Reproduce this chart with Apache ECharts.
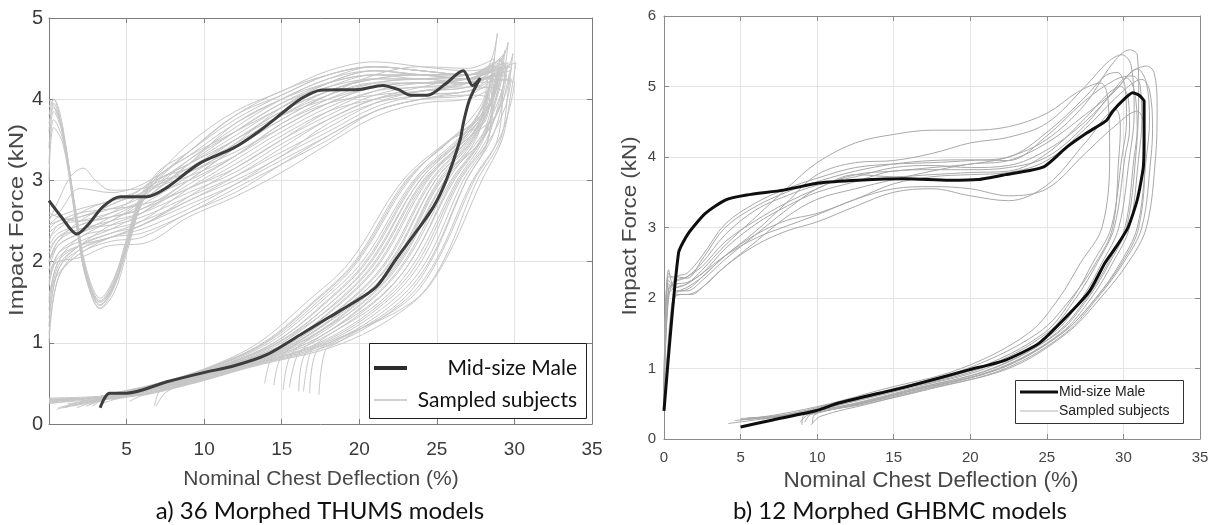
<!DOCTYPE html>
<html><head><meta charset="utf-8">
<script src="https://cdn.jsdelivr.net/npm/echarts@6/dist/echarts.min.js"></script>
<style>html,body{margin:0;padding:0;background:#fff;}#c{width:1212px;height:525px;}</style>
</head><body><div id="c"></div>
<script>
// ---------- tick labels ----------
const thumsXTicks = [0, 5, 10, 15, 20, 25, 30, 35];
const thumsYTicks = [0, 1, 2, 3, 4, 5];
const ghbmcXTicks = [0, 5, 10, 15, 20, 25, 30, 35];
const ghbmcYTicks = [0, 1, 2, 3, 4, 5, 6];

// ---------- a) THUMS : mid-size male ----------
const thumsMale = [[0,2.75],[0.8,2.55],[1.8,2.34],[2.5,2.45],[3.5,2.68],[4.6,2.8],[6.3,2.8],[7.5,2.9],[9.7,3.21],[11.9,3.4],[13.5,3.6],[15.3,3.87],[16.2,4.0],[17.5,4.11],[20,4.12],[21.5,4.17],[22.5,4.12],[23.3,4.05],[24.4,4.05],[25.5,4.18],[26.7,4.35],[27.3,4.17],[27.8,4.26],[27.1,3.99],[26.7,3.7],[26.5,3.5],[25.6,3.0],[24.8,2.68],[23.6,2.35],[22.4,2.04],[21.1,1.69],[19.5,1.48],[18.1,1.32],[16.2,1.1],[14.0,0.85],[12.0,0.72],[9.9,0.63],[7.6,0.52],[5.0,0.38],[3.9,0.38],[3.3,0.2]];

// ---------- a) THUMS : sampled subjects ----------
const thumsS01 = [[0,1.0],[0.6,1.8],[2,2.1],[4,2.25],[6,2.3],[9,2.6],[12,2.85],[15,3.2],[18,3.55],[21,3.85],[24,4.0],[27,4.05],[28.4,4.2],[28.0,3.85],[26.3,3.5],[23.5,3],[20.2,2],[17.5,1.5],[14.2,1],[10.6,0.7],[7.3,0.5],[3.9,0.35],[1.0,0.2]];
const thumsS02 = [[0,1.2],[0.6,1.9],[2,2.15],[4,2.3],[6,2.45],[9,2.75],[12,3.0],[15,3.3],[18,3.7],[21,3.95],[24,4.05],[27,4.1],[29.0,4.35],[28.6,4.0],[27.4,3.5],[25.5,3],[22.7,2],[20.3,1.5],[16.4,1],[15.5,0.82],[15.1,0.42]];
const thumsS03 = [[0,1.5],[0.6,2.0],[2,2.2],[4,2.35],[6,2.5],[9,2.9],[12,3.25],[15,3.6],[18,3.9],[21,4.1],[24,4.15],[27,4.2],[28.8,4.3],[28.4,3.95],[26.8,3.5],[24.4,3],[21.4,2],[18.9,1.5],[15.3,1],[11.2,0.7],[7.8,0.5],[4.3,0.35],[2.4,0.22]];
const thumsS04 = [[0,1.8],[0.6,2.1],[2,2.25],[4,2.4],[6,2.6],[9,3.0],[12,3.4],[15,3.8],[18,4.05],[21,4.2],[24,4.2],[27,4.25],[29.3,4.45],[28.9,4.1],[28.0,3.5],[26.3,3],[23.6,2],[21.3,1.5],[17.3,1],[16.8,0.86],[16.4,0.4]];
const thumsS05 = [[0,2.0],[0.6,2.2],[2,2.35],[4,2.5],[6,2.75],[9,3.2],[12,3.6],[15,3.95],[18,4.15],[21,4.25],[24,4.25],[27,4.3],[28.3,4.4],[28.9,4.81],[28.6,4.3],[28.3,3.5],[26.9,3],[24.6,2],[22.6,1.5],[18.6,1],[17.8,0.9],[17.4,0.36]];
const thumsS06 = [[0,2.2],[0.6,2.35],[2,2.45],[4,2.6],[6,2.85],[9,3.35],[12,3.8],[15,4.05],[18,4.3],[21,4.4],[24,4.35],[27,4.3],[29.2,4.5],[28.8,4.1],[27.8,3.5],[25.9,3],[23.0,2],[20.6,1.5],[16.7,1],[11.9,0.7],[8.5,0.5],[7.2,0.42],[6.8,0.22]];
const thumsS07 = [[0,2.4],[0.6,2.5],[2,2.55],[4,2.7],[6,2.9],[9,3.45],[12,3.85],[15,4.1],[18,4.35],[21,4.46],[24,4.4],[27,4.35],[29.0,4.45],[29.6,4.7],[29.3,4.2],[28.9,3.5],[27.4,3],[25.0,2],[23.0,1.5],[18.3,1],[17.2,0.88],[16.8,0.38]];
const thumsS08 = [[0,2.55],[0.6,2.6],[2,2.9],[4,2.85],[6,2.95],[9,3.3],[12,3.6],[15,3.9],[18,4.2],[21,4.35],[24,4.3],[27,4.25],[29.4,4.35],[29.9,4.56],[29.6,4.1],[29.1,3.5],[27.6,3],[25.4,2],[23.4,1.5],[18.0,1],[16.5,0.86],[16.1,0.4]];
const thumsS09 = [[0,2.5],[0.6,2.75],[1.4,3.05],[2.2,3.15],[3,3.0],[4,2.88],[6,2.9],[9,3.1],[12,3.35],[15,3.65],[18,3.95],[21,4.15],[24,4.2],[27,4.2],[29.5,4.4],[29.1,4.05],[27.7,3.5],[25.2,3],[22.4,2],[19.9,1.5],[16.1,1],[11.6,0.7],[8.2,0.5],[4.8,0.35],[0,0.3]];
const thumsS10 = [[0,1.9],[0.6,2.0],[2,2.05],[4,2.2],[6,2.22],[9,2.55],[12,2.8],[15,3.1],[18,3.45],[21,3.78],[24,3.95],[27,4.0],[28.2,4.1],[27.8,3.8],[25.8,3.5],[22.8,3],[19.4,2],[16.6,1.5],[13.5,1],[10.3,0.7],[7.0,0.5],[3.5,0.35],[0.5,0.18]];
const thumsS11 = [[0,1.6],[0.6,1.85],[2,2.1],[4,2.3],[6,2.4],[9,2.65],[12,2.95],[15,3.3],[18,3.6],[21,3.9],[24,4.05],[27,4.1],[28.7,4.25],[28.3,3.9],[26.6,3.5],[23.9,3],[20.8,2],[18.2,1.5],[14.8,1],[10.9,0.7],[7.5,0.5],[4.1,0.35],[1.8,0.2]];
const thumsS12 = [[0,2.1],[0.6,2.3],[2,2.45],[4,2.55],[6,2.65],[9,2.9],[12,3.15],[15,3.5],[18,3.85],[21,4.1],[24,4.2],[27,4.25],[29.1,4.4],[28.7,4.05],[27.2,3.5],[24.9,3],[22.0,2],[19.6,1.5],[15.9,1],[11.5,0.7],[8.0,0.5],[4.6,0.36],[0,0.28]];
const thumsS13 = [[0,2.3],[0.6,2.4],[2,2.6],[4,2.75],[6,2.8],[9,3.0],[12,3.3],[15,3.7],[18,4.0],[21,4.2],[24,4.25],[27,4.3],[29.4,4.45],[29.0,4.1],[27.9,3.5],[26.0,3],[23.3,2],[20.9,1.5],[16.9,1],[16.0,0.84],[15.5,0.45]];
const thumsS14 = [[0,1.4],[0.6,1.95],[2,2.2],[4,2.45],[6,2.6],[9,2.95],[12,3.3],[15,3.7],[18,3.95],[21,4.05],[24,4.1],[27,4.15],[28.5,4.3],[28.1,3.95],[26.5,3.5],[23.7,3],[20.5,2],[17.9,1.5],[14.5,1],[10.8,0.7],[7.4,0.5],[4.0,0.35],[2.8,0.22]];
const thumsS15 = [[0,2.0],[0.6,2.25],[2,2.4],[4,2.45],[6,2.55],[9,2.8],[12,3.05],[15,3.35],[18,3.65],[21,3.95],[24,4.1],[27,4.15],[28.9,4.35],[28.5,4.0],[27.0,3.5],[24.6,3],[21.7,2],[19.2,1.5],[15.6,1],[11.3,0.7],[7.9,0.5],[4.5,0.36],[0,0.32]];
const thumsS16 = [[0,2.45],[0.6,2.5],[2,2.6],[4,2.65],[6,2.7],[9,2.9],[12,3.2],[15,3.55],[18,3.85],[21,4.0],[24,4.1],[27,4.2],[29.7,4.35],[29.3,4.0],[28.5,3.5],[26.9,3],[24.5,2],[22.3,1.5],[18.1,1],[12.7,0.7],[9.1,0.5],[7.6,0.4],[6.9,0.22]];
const thumsS17 = [[0,1.7],[0.6,2.1],[2,2.3],[4,2.5],[6,2.7],[9,3.05],[12,3.45],[15,3.9],[18,4.2],[21,4.35],[24,4.3],[27,4.25],[29.0,4.4],[28.6,4.05],[27.0,3.5],[24.2,3],[21.1,2],[18.6,1.5],[15.1,1],[14.3,0.8],[13.9,0.5]];
const thumsS18 = [[0,2.25],[0.6,2.45],[2,2.5],[4,2.6],[6,2.75],[9,3.1],[12,3.5],[15,3.85],[18,4.1],[21,4.25],[24,4.3],[27,4.3],[30.1,4.45],[29.8,4.1],[29.2,3.5],[27.9,3],[25.5,2],[23.5,1.5],[19.0,1],[13.0,0.7],[9.3,0.5],[6.0,0.35],[5.2,0.28]];
const thumsS19 = [[0,1.1],[0.6,1.8],[2,2.15],[4,2.3],[6,2.35],[9,2.6],[12,2.9],[15,3.2],[18,3.5],[21,3.85],[24,4.0],[27,4.1],[28.3,4.15],[27.9,3.8],[25.9,3.5],[23.1,3],[19.8,2],[17.1,1.5],[13.9,1],[10.5,0.7],[7.2,0.5],[3.7,0.35],[0,0.25]];
const thumsS20 = [[0,2.6],[0.6,2.55],[2,2.5],[4,2.55],[6,2.65],[9,3.0],[12,3.4],[15,3.75],[18,4.05],[21,4.3],[24,4.4],[27,4.38],[28.7,4.5],[28.3,4.1],[27.3,3.5],[25.1,3],[22.3,2],[19.8,1.5],[16.0,1],[14.9,0.8],[14.5,0.48]];
const thumsS21 = [[0,1.9],[0.6,2.2],[2,2.35],[4,2.55],[6,2.75],[9,3.2],[12,3.7],[15,4.0],[18,4.2],[21,4.3],[24,4.3],[27,4.25],[29.5,4.3],[29.1,3.95],[27.9,3.5],[25.5,3],[22.6,2],[20.2,1.5],[16.4,1],[11.8,0.7],[8.4,0.5],[5.0,0.35],[1.5,0.22]];
const thumsS22 = [[0,2.15],[0.6,2.3],[2,2.4],[4,2.5],[6,2.6],[9,2.85],[12,3.1],[15,3.45],[18,3.75],[21,4.0],[24,4.15],[27,4.25],[30.0,4.2],[29.7,3.9],[29.0,3.5],[27.3,3],[24.9,2],[22.8,1.5],[18.5,1],[12.8,0.7],[9.2,0.5],[5.8,0.35],[0,0.3]];
const thumsS23 = [[0,1.3],[0.6,1.9],[2,2.2],[4,2.35],[6,2.45],[9,2.8],[12,3.15],[15,3.5],[18,3.8],[21,4.05],[24,4.15],[27,4.15],[29.2,4.1],[28.8,3.8],[26.9,3.5],[24.3,3],[21.3,2],[18.8,1.5],[15.3,1],[11.2,0.7],[7.8,0.5],[4.3,0.35],[0.9,0.2]];
const thumsS24 = [[0,2.35],[0.6,2.45],[2,2.55],[4,2.65],[6,2.8],[9,3.25],[12,3.65],[15,4.0],[18,4.25],[21,4.4],[24,4.35],[27,4.3],[28.8,4.4],[28.4,4.05],[27.5,3.5],[25.7,3],[22.9,2],[20.5,1.5],[16.7,1],[12.0,0.7],[8.5,0.5],[5.1,0.35],[3.5,0.26]];
const thumsS25 = [[0,1.75],[0.6,2.05],[2,2.2],[4,2.3],[6,2.45],[9,2.7],[12,2.95],[15,3.25],[18,3.55],[21,3.85],[24,4.0],[27,4.05],[28.4,4.0],[28.0,3.7],[25.9,3.5],[23.2,3],[19.9,2],[17.3,1.5],[14.0,1],[10.5,0.7],[7.2,0.5],[3.8,0.35],[0,0.27]];
const thumsS26 = [[0,2.0],[0.6,2.25],[2,2.5],[4,2.7],[6,2.85],[9,3.15],[12,3.5],[15,3.8],[18,4.0],[21,4.15],[24,4.2],[27,4.2],[29.8,4.25],[29.4,3.9],[28.4,3.5],[26.5,3],[24.0,2],[21.7,1.5],[17.6,1],[12.4,0.7],[8.8,0.5],[5.5,0.35],[0,0.3]];
const thumsS27 = [[0,1.55],[0.6,2.0],[2,2.3],[4,2.4],[6,2.5],[9,2.75],[12,3.05],[15,3.4],[18,3.75],[21,4.0],[24,4.1],[27,4.2],[29.3,4.55],[28.9,4.15],[27.3,3.5],[24.9,3],[22.1,2],[19.5,1.5],[15.8,1],[11.5,0.7],[8.1,0.5],[4.6,0.35],[2.0,0.25]];
const thumsS28 = [[0,2.45],[0.6,2.55],[2,2.65],[4,2.75],[6,2.9],[9,3.35],[12,3.75],[15,4.05],[18,4.3],[21,4.4],[24,4.35],[27,4.3],[28.6,4.45],[28.2,4.05],[26.7,3.5],[24.1,3],[21.0,2],[18.5,1.5],[15.0,1],[11.1,0.7],[7.7,0.5],[4.2,0.35],[0,0.29]];
const thumsS29 = [[0,3.6],[0.3,3.95],[0.9,3.6],[1.8,2.5],[2.4,1.85],[3.3,1.47],[4.2,1.72],[5.0,2.2],[6.0,2.78],[7.0,3.0],[9,3.2],[12,3.55],[15,3.9],[18,4.15],[21,4.3],[24,4.3],[27,4.25],[29.0,4.4],[28.6,4.05],[27.1,3.5],[24.7,3],[21.8,2],[19.3,1.5],[15.6,1],[11.4,0.7],[7.9,0.5],[4.5,0.35],[0,0.3]];
const thumsS30 = [[0,3.8],[0.3,4.0],[0.9,3.55],[1.8,2.4],[2.4,1.78],[3.3,1.43],[4.2,1.68],[5.0,2.15],[6.0,2.75],[7.0,3.05],[9,3.3],[12,3.7],[15,4.0],[18,4.25],[21,4.35],[24,4.3],[27,4.3],[28.8,4.4],[29.4,4.6],[29.0,4.15],[27.9,3.5],[26.1,3],[23.3,2],[21.0,1.5],[17.0,1],[12.2,0.7],[8.7,0.5],[5.3,0.35],[1.2,0.25]];
const thumsS31 = [[0,3.4],[0.3,3.85],[0.9,3.55],[1.8,2.55],[2.4,1.92],[3.3,1.55],[4.2,1.8],[5.0,2.25],[6.0,2.82],[7.0,2.98],[9,3.1],[12,3.4],[15,3.75],[18,4.05],[21,4.2],[24,4.25],[27,4.2],[28.6,4.35],[28.2,4.0],[26.4,3.5],[23.6,3],[20.4,2],[17.8,1.5],[14.5,1],[10.8,0.7],[7.4,0.5],[4.0,0.35],[0,0.28]];
const thumsS32 = [[0,3.9],[0.3,4.0],[0.9,3.65],[1.8,2.45],[2.4,1.8],[3.3,1.42],[4.2,1.62],[5.0,2.1],[6.0,2.75],[7.0,3.1],[9,3.35],[12,3.8],[15,4.1],[18,4.3],[21,4.4],[24,4.35],[27,4.3],[29.1,4.5],[28.7,4.1],[28.3,3.5],[26.7,3],[24.3,2],[22.0,1.5],[17.8,1],[12.5,0.7],[9.0,0.5],[5.6,0.35],[4.0,0.3]];
const thumsS33 = [[0,3.2],[0.3,3.75],[0.9,3.5],[1.8,2.5],[2.4,1.88],[3.3,1.52],[4.2,1.78],[5.0,2.28],[6.0,2.85],[7.0,3.02],[9,3.15],[12,3.45],[15,3.8],[18,4.1],[21,4.25],[24,4.3],[27,4.3],[29.8,4.4],[29.4,4.05],[27.9,3.5],[25.3,3],[22.5,2],[20.0,1.5],[16.2,1],[11.7,0.7],[8.2,0.5],[4.8,0.35],[0,0.31]];
const thumsS34 = [[0,4.0],[0.3,3.92],[0.9,3.6],[1.8,2.5],[2.4,1.86],[3.3,1.5],[4.2,1.75],[5.0,2.22],[6.0,2.8],[7.0,2.92],[9,3.05],[12,3.3],[15,3.65],[18,3.95],[21,4.15],[24,4.2],[27,4.2],[28.9,4.3],[28.5,3.95],[26.6,3.5],[23.9,3],[20.7,2],[18.2,1.5],[14.7,1],[10.9,0.7],[7.5,0.5],[4.1,0.35],[2.6,0.24]];
const thumsS35 = [[0,3.0],[0.3,3.65],[0.9,3.45],[1.8,2.42],[2.4,1.8],[3.3,1.5],[4.2,1.72],[5.0,2.18],[6.0,2.72],[7.0,2.96],[9,3.25],[12,3.6],[15,3.95],[18,4.2],[21,4.3],[24,4.25],[27,4.25],[29.6,4.45],[29.2,4.1],[28.2,3.5],[26.4,3],[23.8,2],[21.5,1.5],[17.4,1],[12.3,0.7],[8.8,0.5],[5.4,0.35],[0,0.26]];
const thumsS36 = [[0,3.7],[0.3,3.9],[0.9,3.58],[1.8,2.47],[2.4,1.83],[3.3,1.46],[4.2,1.7],[5.0,2.16],[6.0,2.76],[7.0,3.0],[9,3.2],[12,3.5],[15,3.85],[18,4.1],[21,4.25],[24,4.25],[27,4.2],[28.3,4.3],[27.9,3.95],[25.9,3.5],[23.0,3],[19.7,2],[17.0,1.5],[13.8,1],[10.4,0.7],[7.1,0.5],[3.6,0.35],[0.6,0.2]];
const thumsSampled = [thumsS01,thumsS02,thumsS03,thumsS04,thumsS05,thumsS06,thumsS07,thumsS08,thumsS09,thumsS10,thumsS11,thumsS12,thumsS13,thumsS14,thumsS15,thumsS16,thumsS17,thumsS18,thumsS19,thumsS20,thumsS21,thumsS22,thumsS23,thumsS24,thumsS25,thumsS26,thumsS27,thumsS28,thumsS29,thumsS30,thumsS31,thumsS32,thumsS33,thumsS34,thumsS35,thumsS36];

// ---------- b) GHBMC : mid-size male ----------
const ghbmcMale = [[0,0.4],[0.95,2.64],[1.6,2.92],[2.7,3.2],[4,3.39],[5.4,3.46],[7.8,3.53],[10.1,3.63],[12.7,3.67],[15.8,3.69],[18.6,3.67],[20.5,3.68],[22.3,3.75],[24.8,3.86],[26.3,4.14],[27.6,4.34],[28.9,4.52],[29.3,4.65],[30.0,4.81],[30.6,4.91],[31.0,4.88],[31.35,4.79],[31.35,4.34],[31.3,3.86],[30.9,3.39],[30.3,3.0],[29.6,2.75],[28.8,2.5],[27.8,2.1],[26.7,1.83],[24.5,1.36],[22.3,1.12],[19.9,0.98],[15.8,0.74],[11.4,0.51],[9.9,0.4],[7.1,0.27],[5.0,0.17]];

// ---------- b) GHBMC : sampled subjects ----------
const ghbmcS01 = [[0,0.5],[0.3,2.05],[0.8,2.15],[1.5,2.2],[2.5,2.4],[4,2.75],[6,3.15],[8,3.55],[10,3.92],[12.5,4.2],[15,4.32],[17.5,4.38],[20,4.38],[22.5,4.43],[25,4.62],[27,4.92],[28.5,5.05],[29.0,4.8],[29.1,4.0],[28.6,3.0],[27.2,2.5],[25.8,2.0],[23.8,1.5],[19.4,1.0],[14.2,0.7],[10.8,0.5],[7.5,0.35],[4.6,0.26]];
const ghbmcS02 = [[0,0.6],[0.3,2.2],[0.8,2.1],[1.5,2.12],[2.5,2.3],[4,2.6],[6,2.95],[8,3.35],[10,3.75],[12.5,3.92],[15,3.95],[17.5,4.05],[20,4.2],[22.5,4.28],[25,4.48],[27.5,5.0],[29,5.35],[29.9,5.45],[30.5,5.3],[30.7,4.6],[30.4,4.0],[29.7,3.0],[28.6,2.5],[27.3,2.0],[25.4,1.5],[21.0,1.0],[15.6,0.7],[11.8,0.5],[8.6,0.35],[5.0,0.27]];
const ghbmcS03 = [[0,0.45],[0.5,1.9],[0.9,2.05],[1.5,2.05],[2.5,2.15],[4,2.45],[6,2.8],[8,3.15],[10,3.4],[12.5,3.55],[15,3.68],[17.5,3.8],[20,3.9],[22.5,3.95],[25,4.2],[27.5,4.6],[29.5,4.95],[30.5,5.2],[31.5,5.29],[32.0,5.2],[32.2,4.7],[32.1,4.0],[31.5,3.0],[30.3,2.5],[28.5,2.0],[26.3,1.5],[22.5,1.0],[17.0,0.7],[13.4,0.5],[10.2,0.32],[9.6,0.2]];
const ghbmcS04 = [[0,0.55],[0.3,2.35],[0.8,2.25],[1.5,2.3],[2.5,2.5],[4,2.9],[6,3.25],[8,3.45],[10,3.6],[12.5,3.72],[15,3.85],[17.5,3.88],[20,3.85],[22.5,3.88],[25,4.1],[27.5,4.5],[29.5,4.95],[30.9,5.25],[31.5,5.05],[31.7,4.5],[31.5,4.0],[30.9,3.0],[29.8,2.5],[28.2,2.0],[26.0,1.5],[22.0,1.0],[16.5,0.7],[12.8,0.5],[9.4,0.34],[8.9,0.24]];
const ghbmcS05 = [[0,0.5],[0.3,2.0],[0.8,2.3],[1.5,2.35],[2.5,2.6],[4,3.05],[6,3.35],[8,3.55],[10,3.7],[12.5,3.85],[15,3.9],[17.5,3.92],[20,3.95],[22.5,4.0],[25,4.35],[27.5,4.85],[28.8,5.15],[29.6,5.2],[30.1,5.0],[30.2,4.5],[29.9,4.0],[29.2,3.0],[28.0,2.5],[26.7,2.0],[24.8,1.5],[20.4,1.0],[15.0,0.7],[11.3,0.5],[8.2,0.35],[5.3,0.28]];
const ghbmcS06 = [[0,0.6],[0.3,2.15],[0.8,2.2],[1.5,2.22],[2.5,2.35],[4,2.7],[6,3.05],[8,3.3],[10,3.5],[12.5,3.65],[15,3.8],[17.5,3.82],[20,3.82],[22.5,3.85],[25,4.0],[27.5,4.45],[29.2,4.9],[30.2,5.12],[30.7,4.95],[30.9,4.4],[30.7,4.0],[30.1,3.0],[29.0,2.5],[27.6,2.0],[25.6,1.5],[21.5,1.0],[16.0,0.7],[12.3,0.5],[9.0,0.36],[6.4,0.28]];
const ghbmcS07 = [[0,0.45],[0.3,2.4],[0.8,2.1],[1.5,2.1],[2.5,2.25],[4,2.55],[6,2.9],[8,3.25],[10,3.55],[12.5,3.75],[15,3.8],[17.5,3.85],[20,3.9],[22.5,4.0],[25,4.25],[27.5,4.75],[29.2,5.3],[30.4,5.52],[30.9,5.45],[31.0,4.9],[30.8,4.0],[30.2,3.0],[29.1,2.5],[27.7,2.0],[25.7,1.5],[21.4,1.0],[16.2,0.7],[12.5,0.5],[9.2,0.35],[9.0,0.2]];
const ghbmcS08 = [[0,0.55],[0.3,2.1],[0.8,2.25],[1.5,2.3],[2.5,2.45],[4,2.8],[6,3.1],[8,3.35],[10,3.55],[12.5,3.75],[15,3.72],[17.5,3.75],[20,3.78],[22.5,3.8],[25,4.05],[27.5,4.55],[29,4.9],[29.8,5.0],[30.3,4.85],[30.4,4.4],[30.1,4.0],[29.4,3.0],[28.3,2.5],[26.9,2.0],[25.0,1.5],[20.7,1.0],[15.3,0.7],[11.6,0.5],[8.4,0.35],[4.2,0.22]];
const ghbmcS09 = [[0,0.5],[0.6,2.0],[1.0,2.1],[1.5,2.15],[2.5,2.3],[4,2.6],[6,2.9],[8,3.1],[10,3.2],[12.5,3.4],[15,3.62],[17.5,3.72],[20,3.75],[22.5,3.78],[25,3.95],[27.5,4.4],[29.8,4.9],[31.2,5.1],[31.7,4.95],[31.9,4.4],[31.8,4.0],[31.2,3.0],[30.0,2.5],[28.3,2.0],[26.2,1.5],[22.3,1.0],[17.2,0.7],[13.2,0.5],[9.8,0.34],[9.7,0.22]];
const ghbmcS10 = [[0,0.4],[0.7,2.0],[1.2,2.05],[1.8,2.05],[2.5,2.15],[4,2.45],[6,2.75],[8,2.95],[10,3.08],[12.5,3.3],[15,3.5],[17.5,3.55],[20,3.45],[22.5,3.38],[25,3.6],[27.5,4.2],[29.5,4.67],[29.8,4.4],[29.7,4.0],[29.3,3.0],[28.2,2.5],[26.6,2.0],[24.4,1.5],[19.8,1.0],[14.7,0.7],[11.0,0.5],[8.0,0.35],[5.0,0.29]];
const ghbmcS11 = [[0,0.5],[0.3,2.25],[0.8,2.15],[1.5,2.2],[2.5,2.35],[4,2.6],[6,2.85],[8,3.02],[10,3.18],[12.5,3.4],[15,3.55],[17.5,3.58],[20,3.55],[22.5,3.45],[25,3.55],[27.5,4.05],[29.5,4.45],[30.9,4.65],[31.3,4.5],[31.4,4.0],[31.0,3.0],[29.9,2.5],[28.2,2.0],[26.0,1.5],[21.9,1.0],[16.8,0.7],[12.9,0.5],[9.6,0.35],[9.2,0.24]];
const ghbmcS12 = [[0,0.6],[0.3,2.3],[0.8,2.3],[1.5,2.28],[2.5,2.55],[4,3.0],[6,3.3],[8,3.5],[10,3.65],[12.5,3.8],[15,3.9],[17.5,3.95],[20,3.96],[22.5,3.95],[25,4.3],[27.5,4.8],[29.5,5.1],[30.6,5.15],[31.1,5.0],[31.2,4.5],[31.0,4.0],[30.4,3.0],[29.3,2.5],[27.9,2.0],[25.9,1.5],[21.8,1.0],[16.4,0.7],[12.6,0.5],[9.3,0.35],[5.5,0.3]];
const ghbmcSampled = [ghbmcS01,ghbmcS02,ghbmcS03,ghbmcS04,ghbmcS05,ghbmcS06,ghbmcS07,ghbmcS08,ghbmcS09,ghbmcS10,ghbmcS11,ghbmcS12];

// ---------- build chart ----------
const AX = '"Liberation Sans", Arial, sans-serif';
const chart = echarts.init(document.getElementById('c'), null, {renderer: 'canvas'});

function axisPair(gridIndex, ticks, pos, opt) {
  return {
    gridIndex, type: 'value', min: ticks[0], max: ticks[ticks.length - 1],
    interval: ticks[1] - ticks[0], position: pos,
    axisLine: {show: true, onZero: false, lineStyle: {color: opt.axisColor, width: 1}},
    axisTick: {show: true, inside: true, length: 5, lineStyle: {color: opt.axisColor}},
    splitLine: {show: false}, axisLabel: {show: false}
  };
}

const leftOpt = {axisColor: '#7c7c7c', grid: '#e2e2e2', label: '#3a3a3a'};
const rightOpt = {axisColor: '#8a8a8a', grid: '#e5e5e5', label: '#444'};

const xAxes = [], yAxes = [];
// grid 0 (THUMS)
let a = axisPair(0, thumsXTicks, 'bottom', leftOpt);
a.splitLine = {show: true, lineStyle: {color: leftOpt.grid, width: 1}};
a.axisLabel = {show: true, fontSize: 19, fontFamily: AX, color: leftOpt.label, margin: 16,
  formatter: v => (v === 0 ? '' : String(v))};
xAxes.push(a);
xAxes.push(axisPair(0, thumsXTicks, 'top', leftOpt));
a = axisPair(0, thumsYTicks, 'left', leftOpt);
a.splitLine = {show: true, lineStyle: {color: leftOpt.grid, width: 1}};
a.axisLabel = {show: true, fontSize: 20, fontFamily: AX, color: leftOpt.label, margin: 6};
yAxes.push(a);
yAxes.push(axisPair(0, thumsYTicks, 'right', leftOpt));
// grid 1 (GHBMC)
a = axisPair(1, ghbmcXTicks, 'bottom', rightOpt);
a.splitLine = {show: true, lineStyle: {color: rightOpt.grid, width: 1}};
a.axisLabel = {show: true, fontSize: 15, fontFamily: AX, color: rightOpt.label, margin: 11};
xAxes.push(a);
xAxes.push(axisPair(1, ghbmcXTicks, 'top', rightOpt));
a = axisPair(1, ghbmcYTicks, 'left', rightOpt);
a.splitLine = {show: true, lineStyle: {color: rightOpt.grid, width: 1}};
a.axisLabel = {show: true, fontSize: 15, fontFamily: AX, color: rightOpt.label, margin: 8};
yAxes.push(a);
yAxes.push(axisPair(1, ghbmcYTicks, 'right', rightOpt));

const series = [];
function addLine(name, data, xi, yi, color, width, z, smooth) {
  series.push({name, type: 'line', xAxisIndex: xi, yAxisIndex: yi, data,
    showSymbol: false, symbol: 'none', smooth, silent: true, z,
    lineStyle: {color, width}, emphasis: {disabled: true}});
}
thumsSampled.forEach(d => addLine('Sampled subjects', d, 0, 0, '#c6c6c6', 1, 2, 0.35));
addLine('Mid-size Male', thumsMale, 0, 0, '#3d3d3d', 3, 3, 0.3);
ghbmcSampled.forEach(d => addLine('Sampled subjects ', d, 2, 2, '#a9a9a9', 1, 2, 0.35));
addLine('Mid-size Male ', ghbmcMale, 2, 2, '#0e0e0e', 3, 3, 0.2);

function txt(x, y, text, font, fill, align, extra) {
  return Object.assign({type: 'text', x, y, z: 20, silent: true,
    style: {text, font, fill, textAlign: align, textVerticalAlign: 'middle', align, verticalAlign: 'middle'}}, extra || {});
}

const graphic = [
  // axis titles
  txt(321, 479, 'Nominal Chest Deflection (%)', '21px ' + AX, '#474747', 'center'),
  txt(17, 220, 'Impact Force (kN)', '20px ' + AX, '#474747', 'center', {rotation: Math.PI / 2, scaleX: 1.2}),
  txt(931, 481, 'Nominal Chest Deflection (%)', '22.5px ' + AX, '#474747', 'center'),
  txt(630, 226, 'Impact Force (kN)', '20px ' + AX, '#474747', 'center', {rotation: Math.PI / 2, scaleX: 1.12}),
  // captions
  txt(320, 511, 'a) 36 Morphed THUMS models', '24px Lato, "Open Sans", sans-serif', '#111', 'center'),
  txt(900, 511, 'b) 12 Morphed GHBMC models', '24px Lato, "Open Sans", sans-serif', '#111', 'center'),
  // legend a)
  {type: 'rect', z: 10, silent: true, shape: {x: 369.5, y: 343.5, width: 217, height: 75}, style: {fill: '#fff', stroke: '#1e1e1e', lineWidth: 1}},
  {type: 'line', z: 11, silent: true, shape: {x1: 374, y1: 368, x2: 407, y2: 368}, style: {stroke: '#2c2c2c', lineWidth: 4}},
  {type: 'line', z: 11, silent: true, shape: {x1: 374, y1: 400, x2: 407, y2: 400}, style: {stroke: '#c2c2c2', lineWidth: 1.5}},
  txt(577, 368, 'Mid-size Male', '21px Lato, "Open Sans", sans-serif', '#111', 'right'),
  txt(577, 400, 'Sampled subjects', '21px Lato, "Open Sans", sans-serif', '#111', 'right'),
  // legend b)
  {type: 'rect', z: 10, silent: true, shape: {x: 1015.5, y: 380.5, width: 168, height: 43}, style: {fill: '#fff', stroke: '#333', lineWidth: 1}},
  {type: 'line', z: 11, silent: true, shape: {x1: 1020, y1: 392, x2: 1058, y2: 392}, style: {stroke: '#0e0e0e', lineWidth: 3}},
  {type: 'line', z: 11, silent: true, shape: {x1: 1020, y1: 411, x2: 1058, y2: 411}, style: {stroke: '#b5b5b5', lineWidth: 1}},
  txt(1059, 392, 'Mid-size Male', '14px ' + AX, '#222', 'left'),
  txt(1059, 411, 'Sampled subjects', '14px ' + AX, '#222', 'left')
];

chart.setOption({
  animation: false,
  backgroundColor: '#ffffff',
  grid: [
    {left: 49, top: 18, width: 543, height: 406, containLabel: false},
    {left: 664, top: 16, width: 536, height: 423, containLabel: false}
  ],
  xAxis: xAxes,
  yAxis: yAxes,
  series,
  graphic
});
</script>
</body></html>
